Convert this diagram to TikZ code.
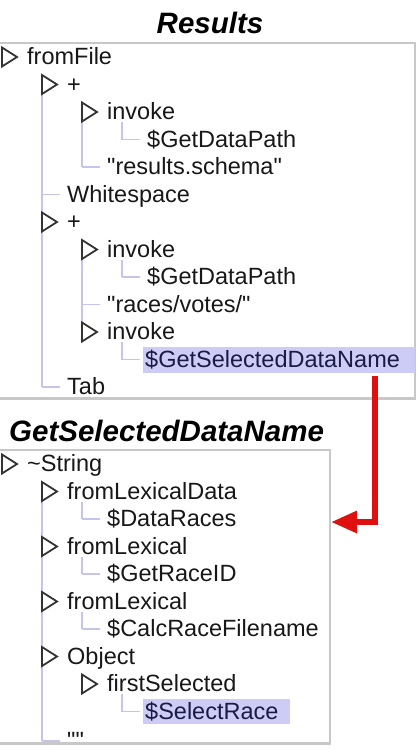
\documentclass[tikz,border=0pt]{standalone}
\usepackage{fontspec}
\setmainfont{Liberation Sans}[Ligatures=TeXOff]
\usetikzlibrary{arrows.meta}
\definecolor{treeline}{RGB}{196,196,236}
\definecolor{hilite}{RGB}{204,204,246}
\definecolor{txtc}{RGB}{24,24,24}
\definecolor{hitxt}{RGB}{26,26,70}
\definecolor{boxc}{RGB}{200,200,200}
\definecolor{arrowred}{RGB}{222,16,16}
\newcommand\TreeRow[4]{\node[txt] (#1) at ({40*#2+27},{#3+7.5}) {#4};}
\newcommand\TreeTri[2]{\draw[tri] ({40*#1+2},{#2-9.5}) -- ({40*#1+2},{#2+9.5}) -- ({40*#1+17},{#2}) -- cycle;}
\newcommand\TreeVert[3]{\draw[tline] ({40*#1+2},#2) -- ({40*#1+2},#3);}
\newcommand\TreeConn[2]{\draw[tline] ({40*#1+2},#2) -- ({40*#1+20},#2);}
\newcommand\Q{\symbol{34}}
\begin{document}
\begin{tikzpicture}[x=1pt,y=-1pt,
  txt/.style={font=\fontsize{23.5}{26}\selectfont, text=txtc, inner sep=0pt, anchor=base west},
  ttl/.style={font=\fontsize{29.5}{32}\selectfont\bfseries\itshape, text=black, inner sep=0pt, anchor=base},
  tri/.style={draw=black!80, line width=1.8pt, fill=white, line join=miter},
  tline/.style={draw=treeline, line width=1.4pt},
  boxline/.style={draw=boxc, line width=2pt},
  hl/.style={fill=hilite, draw=none, inner sep=0pt, anchor=north west}
]
\useasboundingbox (0,0) rectangle (417,753);
\fill[white] (0,0) rectangle (417,753);

% ---------- Results ----------
\node[ttl] (t1) at (210,33) {Results};
\draw[boxline] (-5,43) -- (415,43) -- (415,398);
\draw[draw=boxc, line width=3pt] (-5,398.5) -- (416,398.5);

\TreeVert{1}{84.5}{387} \TreeConn{1}{194.5} \TreeConn{1}{387}
\TreeVert{2}{112}{167} \TreeConn{2}{167}
\TreeVert{3}{122}{139.5} \TreeConn{3}{139.5}
\TreeVert{2}{249.5}{332} \TreeConn{2}{304.5}
\TreeVert{3}{259.5}{277} \TreeConn{3}{277}
\TreeVert{3}{342}{359.5} \TreeConn{3}{359.5}

\node[hl, minimum width=272pt, minimum height=26pt] (hl1) at (143,347) {};

\TreeTri{0}{57}    \TreeRow{r1}{0}{57}{fromFile}
\TreeTri{1}{84.5}  \TreeRow{r2}{1}{84.5}{+}
\TreeTri{2}{112}   \TreeRow{r3}{2}{112}{invoke}
                   \TreeRow{r4}{3}{139.5}{\$GetDataPath}
                   \TreeRow{r5}{2}{167}{\Q results.schema\Q}
                   \TreeRow{r6}{1}{194.5}{Whitespace}
\TreeTri{1}{222}   \TreeRow{r7}{1}{222}{+}
\TreeTri{2}{249.5} \TreeRow{r8}{2}{249.5}{invoke}
                   \TreeRow{r9}{3}{277}{\$GetDataPath}
                   \TreeRow{r10}{2}{304.5}{\Q races/votes/\Q}
\TreeTri{2}{332}   \TreeRow{r11}{2}{332}{invoke}
\node[txt, text=hitxt] (r12) at (145,367) {\$GetSelectedDataName};
                   \TreeRow{r13}{1}{387}{Tab}

% ---------- GetSelectedDataName ----------
\node[ttl, anchor=base west] (t2) at (9,441) {GetSelectedDataName};
\draw[boxline] (-5,450) -- (330,450) -- (330,743);
\draw[draw=boxc, line width=3pt] (-5,743.5) -- (331,743.5);

\TreeVert{1}{491.5}{741} \TreeConn{1}{741}
\TreeVert{2}{501.5}{519} \TreeConn{2}{519}
\TreeVert{2}{556.5}{574} \TreeConn{2}{574}
\TreeVert{2}{611.5}{629} \TreeConn{2}{629}
\TreeVert{3}{694}{711.5} \TreeConn{3}{711.5}

\node[hl, minimum width=147pt, minimum height=25pt] (hl2) at (143,699) {};

\TreeTri{0}{464}   \TreeRow{s1}{0}{464}{\textasciitilde String}
\TreeTri{1}{491.5} \TreeRow{s2}{1}{491.5}{fromLexicalData}
                   \TreeRow{s3}{2}{519}{\$DataRaces}
\TreeTri{1}{546.5} \TreeRow{s4}{1}{546.5}{fromLexical}
                   \TreeRow{s5}{2}{574}{\$GetRaceID}
\TreeTri{1}{601.5} \TreeRow{s6}{1}{601.5}{fromLexical}
                   \TreeRow{s7}{2}{629}{\$CalcRaceFilename}
\TreeTri{1}{656.5} \TreeRow{s8}{1}{656.5}{Object}
\TreeTri{2}{684}   \TreeRow{s9}{2}{684}{firstSelected}
\node[txt, text=hitxt] (s10) at (145,719) {\$SelectRace};
                   \TreeRow{s11}{1}{741}{\Q\Q}

% ---------- red arrow ----------
\coordinate (a0) at (hl1.south -| 375,0);
\coordinate (a1) at (375,522);
\coordinate (a2) at (331,522);
\draw[arrowred, line width=6pt, line join=miter, -{Triangle[length=26pt,width=21pt]}]
  ([yshift=-3pt]a0) -- (a1) -- (a2);
\end{tikzpicture}
\end{document}
